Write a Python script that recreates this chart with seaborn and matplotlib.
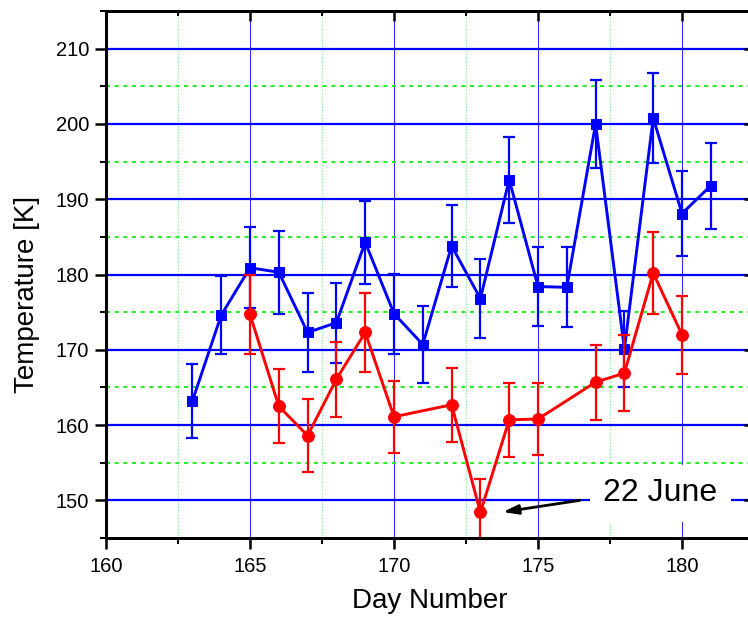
import matplotlib
matplotlib.use("Agg")
import matplotlib.pyplot as plt
from matplotlib.ticker import MultipleLocator
import seaborn as sns
import pandas as pd

# Upper series (squares)
days_a = [163, 164, 165, 166, 167, 168, 169, 170, 171, 172, 173, 174, 175, 176, 177, 178, 179, 180, 181]
temp_a = [163.2, 174.6, 180.9, 180.3, 172.3, 173.6, 184.3, 174.8, 170.7, 183.8, 176.8, 192.6,
          178.4, 178.3, 200.0, 170.1, 200.8, 188.1, 191.8]
err_a = [4.9, 5.2, 5.4, 5.5, 5.2, 5.3, 5.5, 5.3, 5.1, 5.4, 5.3, 5.7, 5.3, 5.3, 5.9, 5.1, 6.0, 5.7, 5.7]

# Lower series (circles)
days_b = [165, 166, 167, 168, 169, 170, 172, 173, 174, 175, 177, 178, 179, 180]
temp_b = [174.7, 162.5, 158.6, 166.1, 172.3, 161.1, 162.7, 148.4, 160.7, 160.8, 165.7, 166.9, 180.2, 172.0]
err_b = [5.2, 4.9, 4.8, 5.0, 5.2, 4.8, 4.9, 4.5, 4.9, 4.8, 5.0, 5.0, 5.5, 5.2]

x_ticks = [160, 165, 170, 175, 180]
y_ticks = [150, 160, 170, 180, 190, 200, 210]

sns.set_style("ticks")
plt.rcParams["font.family"] = ["Liberation Sans", "DejaVu Sans"]

df_a = pd.DataFrame({"day": days_a, "temp": temp_a})
df_b = pd.DataFrame({"day": days_b, "temp": temp_b})

fig = plt.figure(figsize=(7.48, 6.17), dpi=100)
ax = fig.add_axes([106 / 748, 1 - 538 / 617, 648 / 748, 527 / 617])

XLIM = (160, 182.5)
YLIM = (145, 215)
ax.set_xlim(*XLIM)
ax.set_ylim(*YLIM)
ax.set_xticks(x_ticks)
ax.set_yticks(y_ticks)
ax.xaxis.set_minor_locator(MultipleLocator(2.5))
ax.yaxis.set_minor_locator(MultipleLocator(5))

# grid: solid blue on major ticks, dotted green on minor ticks
ax.set_axisbelow(True)
ax.yaxis.grid(True, which="major", color="#0000ff", lw=1.6)
ax.xaxis.grid(True, which="major", color="#3333ff", lw=0.8)
ax.yaxis.grid(True, which="minor", color="#11ee11", lw=1.3, linestyle=(0, (2.2, 2.6)))
ax.xaxis.grid(True, which="minor", color="#77ee77", lw=0.8, linestyle=(0, (1, 1.5)))

# error bars, then lines with markers
ax.errorbar(days_a, temp_a, yerr=err_a, fmt="none", ecolor="#0000ff", elinewidth=1.6,
            capsize=4.5, capthick=1.6, zorder=3)
sns.lineplot(data=df_a, x="day", y="temp", ax=ax, color="#0000ff", marker="s",
             markersize=7.5, markeredgecolor="#0000ff", linewidth=2.1, zorder=4)
ax.errorbar(days_b, temp_b, yerr=err_b, fmt="none", ecolor="#ff0000", elinewidth=1.6,
            capsize=4.5, capthick=1.6, zorder=5)
sns.lineplot(data=df_b, x="day", y="temp", ax=ax, color="#ff0000", marker="o",
             markersize=8.5, markeredgecolor="#ff0000", linewidth=2.1, zorder=6)

# annotation for the solstice point
ax.annotate("", xy=(173.78, 148.45), xytext=(176.45, 150.0),
            arrowprops=dict(arrowstyle="-|>,head_length=0.9,head_width=0.28",
                            color="black", lw=2.0, shrinkA=0, shrinkB=0), zorder=8)
ax.text(177.26, 150.95, "22 June", fontsize=23, ha="left", va="center", zorder=7,
        color="black", bbox=dict(boxstyle="square,pad=0.42", fc="white", ec="none"))

ax.tick_params(axis="both", which="major", direction="out", length=8, width=1.8,
               labelsize=14.5, color="black", labelcolor="black")
ax.tick_params(axis="both", which="minor", direction="out", length=4.5, width=1.5, color="black")
ax.tick_params(axis="x", which="major", pad=6)
ax.tick_params(axis="y", which="major", pad=4)

ax.set_xlabel("Day Number", fontsize=20, color="black")
ax.set_ylabel("Temperature [K]", fontsize=20, color="black")
ax.xaxis.set_label_coords(0.5, -0.095)
ax.yaxis.set_label_coords(-0.102, 0.463)

# inward ticks on the top and right edges, drawn on twin axes above the grid
ax_top = ax.twiny()
ax_top.set_xlim(*XLIM)
ax_top.set_xticks(x_ticks)
ax_top.xaxis.set_minor_locator(MultipleLocator(2.5))
ax_top.tick_params(axis="x", which="major", direction="in", length=7, width=1.8,
                   color="black", labeltop=False, top=True, bottom=False)
ax_top.tick_params(axis="x", which="minor", direction="in", length=3.5, width=1.5,
                   color="black", top=True, bottom=False)

ax_right = ax.twinx()
ax_right.set_ylim(*YLIM)
ax_right.set_yticks(y_ticks)
ax_right.yaxis.set_minor_locator(MultipleLocator(5))
ax_right.tick_params(axis="y", which="major", direction="in", length=7, width=1.8,
                     color="black", labelright=False, right=True, left=False)
ax_right.tick_params(axis="y", which="minor", direction="in", length=3.5, width=1.5,
                     color="black", right=True, left=False)

for a in (ax, ax_top, ax_right):
    for s in a.spines.values():
        s.set_linewidth(1.8)
        s.set_color("black")

fig.savefig("out.png", dpi=100)
